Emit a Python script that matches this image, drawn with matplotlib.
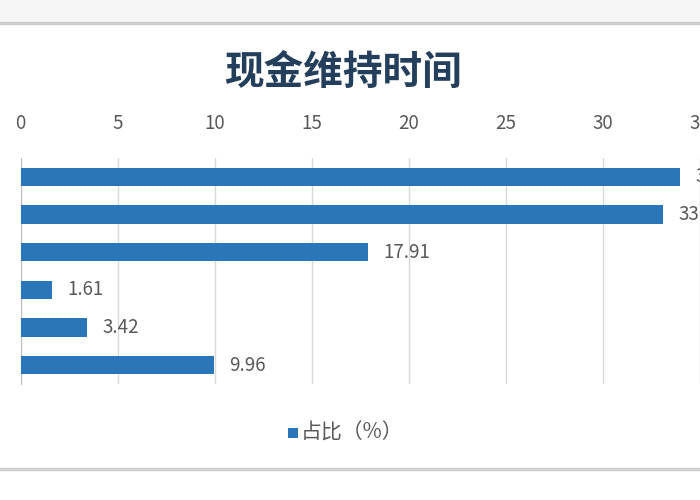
import matplotlib
matplotlib.use('Agg')
import matplotlib.pyplot as plt
from matplotlib.patches import Rectangle
from matplotlib.lines import Line2D

plt.rcParams['font.family'] = ['Noto Sans CJK SC', 'DejaVu Sans']

# 数据（左侧类别标签在原图中被裁掉）
categories = ['类别1', '类别2', '类别3', '类别4', '类别5', '类别6']
values = [34.00, 33.10, 17.91, 1.61, 3.42, 9.96]
xticks = [0, 5, 10, 15, 20, 25, 30, 35]
title = '现金维持时间'
legend_label = '占比（%）'

bar_color = '#2a76b8'
text_color = '#595959'

fig = plt.figure(figsize=(7, 5), dpi=100)
fig.patch.set_facecolor('white')

# 顶部/底部的页面阴影
fig.add_artist(Rectangle((0, 0.956), 1, 0.044, transform=fig.transFigure,
                         facecolor='#f6f6f6', edgecolor='none'))
fig.add_artist(Line2D([0, 1], [0.955, 0.955], transform=fig.transFigure,
                      color='#cccccc', lw=2.5))
fig.add_artist(Line2D([0, 1], [0.062, 0.062], transform=fig.transFigure,
                      color='#d0d0d0', lw=2.5))

ax = fig.add_axes([0.0293, 0.232, 0.970, 0.452])
y = list(range(len(categories)))
ax.barh(y, values, height=0.48, color=bar_color, zorder=3)

ax.set_xlim(0, 35)
ax.set_ylim(len(categories) - 0.5, -0.5)
ax.set_xticks(xticks)
ax.xaxis.tick_top()
ax.tick_params(axis='x', length=0, labelsize=13.5, colors=text_color, pad=17)
ax.set_yticks([])
ax.grid(axis='x', color='#d9d9d9', lw=1, zorder=0)
for s in ['top', 'right', 'bottom']:
    ax.spines[s].set_visible(False)
ax.spines['left'].set_color('#bfbfbf')

for yi, v in zip(y, values):
    ax.text(v + 0.8, yi, '%.2f' % v, va='center', ha='left',
            fontsize=13.5, color=text_color)

fig.text(0.49, 0.855, title, ha='center', va='center', fontsize=28.5,
         fontweight='bold', color='#243f5c')

# 图例
fig.add_artist(Rectangle((0.411, 0.124), 0.014, 0.02, transform=fig.transFigure,
                         facecolor=bar_color, edgecolor='none'))
fig.text(0.43, 0.134, legend_label, ha='left', va='center', fontsize=15,
         color=text_color)

fig.savefig('out.png', dpi=100)
